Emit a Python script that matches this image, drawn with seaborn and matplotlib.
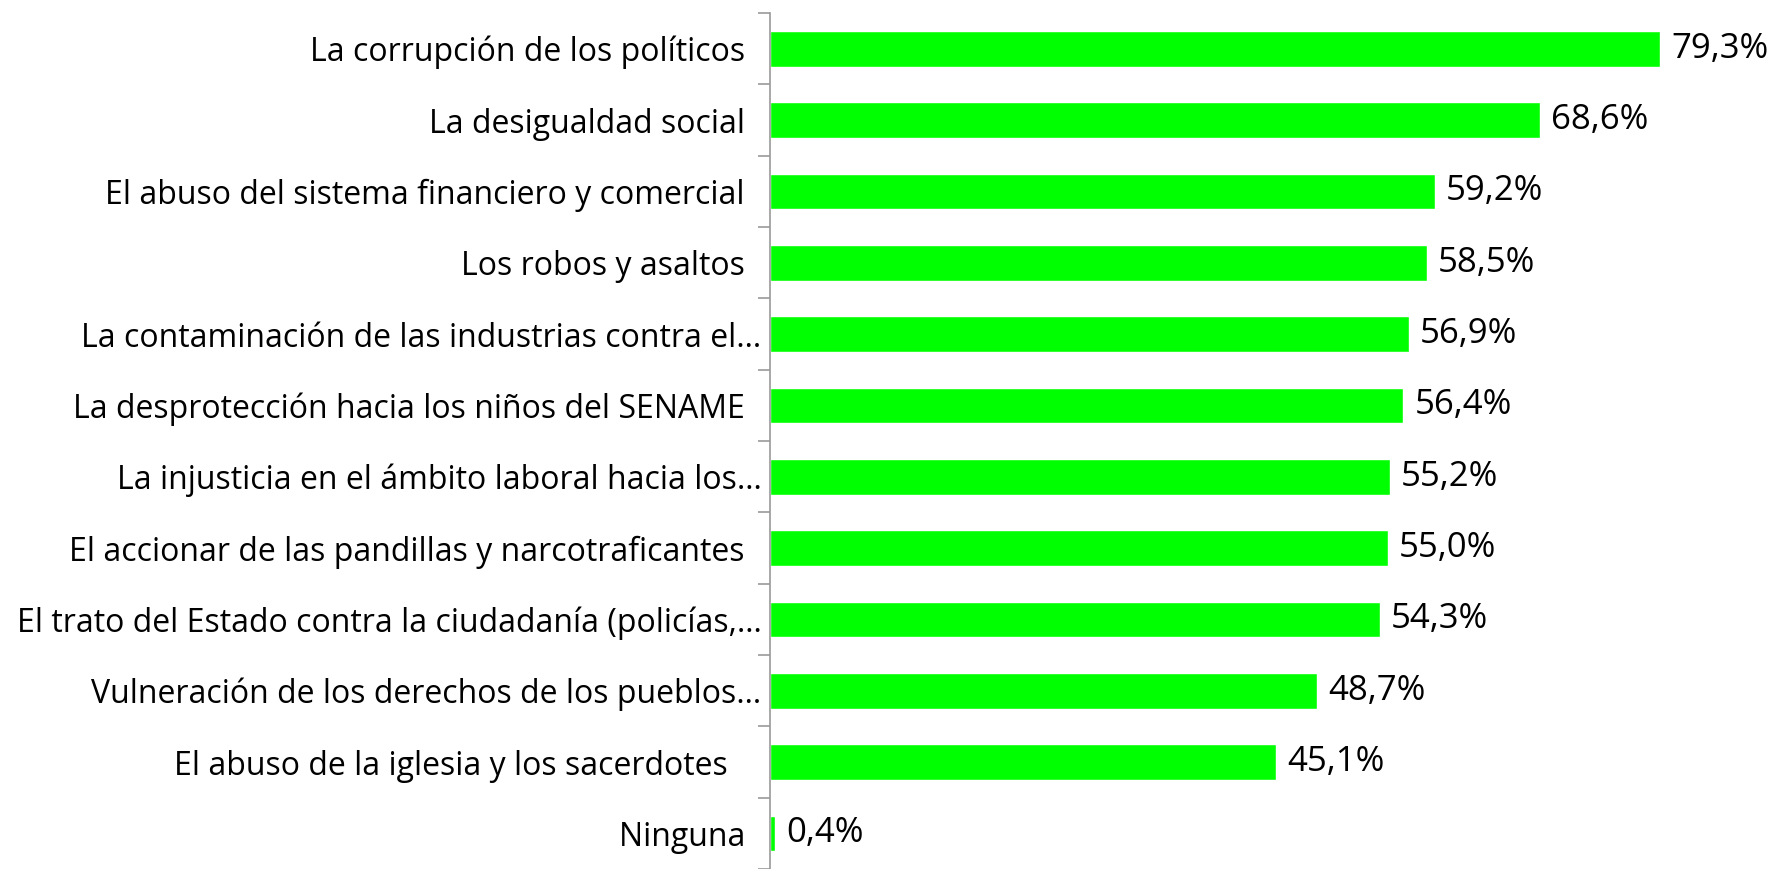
import matplotlib
matplotlib.use("Agg")
import matplotlib.pyplot as plt
import seaborn as sns
import pandas as pd
import numpy as np

# datos (las etiquetas conservan los espacios finales del original)
categorias = [
    "La corrupción de los políticos  ",
    "La desigualdad social  ",
    "El abuso del sistema financiero y comercial  ",
    "Los robos y asaltos  ",
    "La contaminación de las industrias contra el…",
    "La desprotección hacia los niños del SENAME  ",
    "La injusticia en el ámbito laboral hacia los…",
    "El accionar de las pandillas y narcotraficantes  ",
    "El trato del Estado contra la ciudadanía (policías,…",
    "Vulneración de los derechos de los pueblos…",
    "El abuso de la iglesia y los sacerdotes    ",
    "Ninguna  ",
]
valores = [79.3, 68.6, 59.2, 58.5, 56.9, 56.4, 55.2, 55.0, 54.3, 48.7, 45.1, 0.4]

df = pd.DataFrame({"categoria": categorias, "valor": valores})

sns.set_style("white")
plt.rcParams['font.family'] = ['Open Sans', 'DejaVu Sans']

fig = plt.figure(figsize=(17.76, 8.69), dpi=100)
ax = fig.add_axes([0.4336, 0.0, 0.5664, 0.985])

sns.barplot(data=df, x="valor", y="categoria", orient="h", color="#00FF00",
            saturation=1, width=0.5, ax=ax)

ax.set_xlim(0, 89.6)
ax.set_ylim(len(categorias) - 0.5, -0.5)
ax.set_xlabel("")
ax.set_ylabel("")
ax.set_xticks([])

# etiquetas de categorias
ax.set_yticks(range(len(categorias)))
ax.set_yticklabels(categorias, fontsize=23, color="black")
ax.tick_params(axis="y", which="major", length=0, pad=6)
ax.set_yticks(np.arange(-0.5, len(categorias), 1), minor=True)
ax.tick_params(axis="y", which="minor", left=True, length=9, width=1.2,
               color="#999999")

for s in ["top", "right", "bottom"]:
    ax.spines[s].set_visible(False)
ax.spines["left"].set_color("#999999")
ax.spines["left"].set_linewidth(1.2)

# etiquetas de valores
for i, v in enumerate(valores):
    ax.text(v + 1.0, i, f"{v:.1f}%".replace(".", ","), va="center", ha="left",
            fontsize=25, color="black", clip_on=False)

fig.savefig("out.png", dpi=100)
